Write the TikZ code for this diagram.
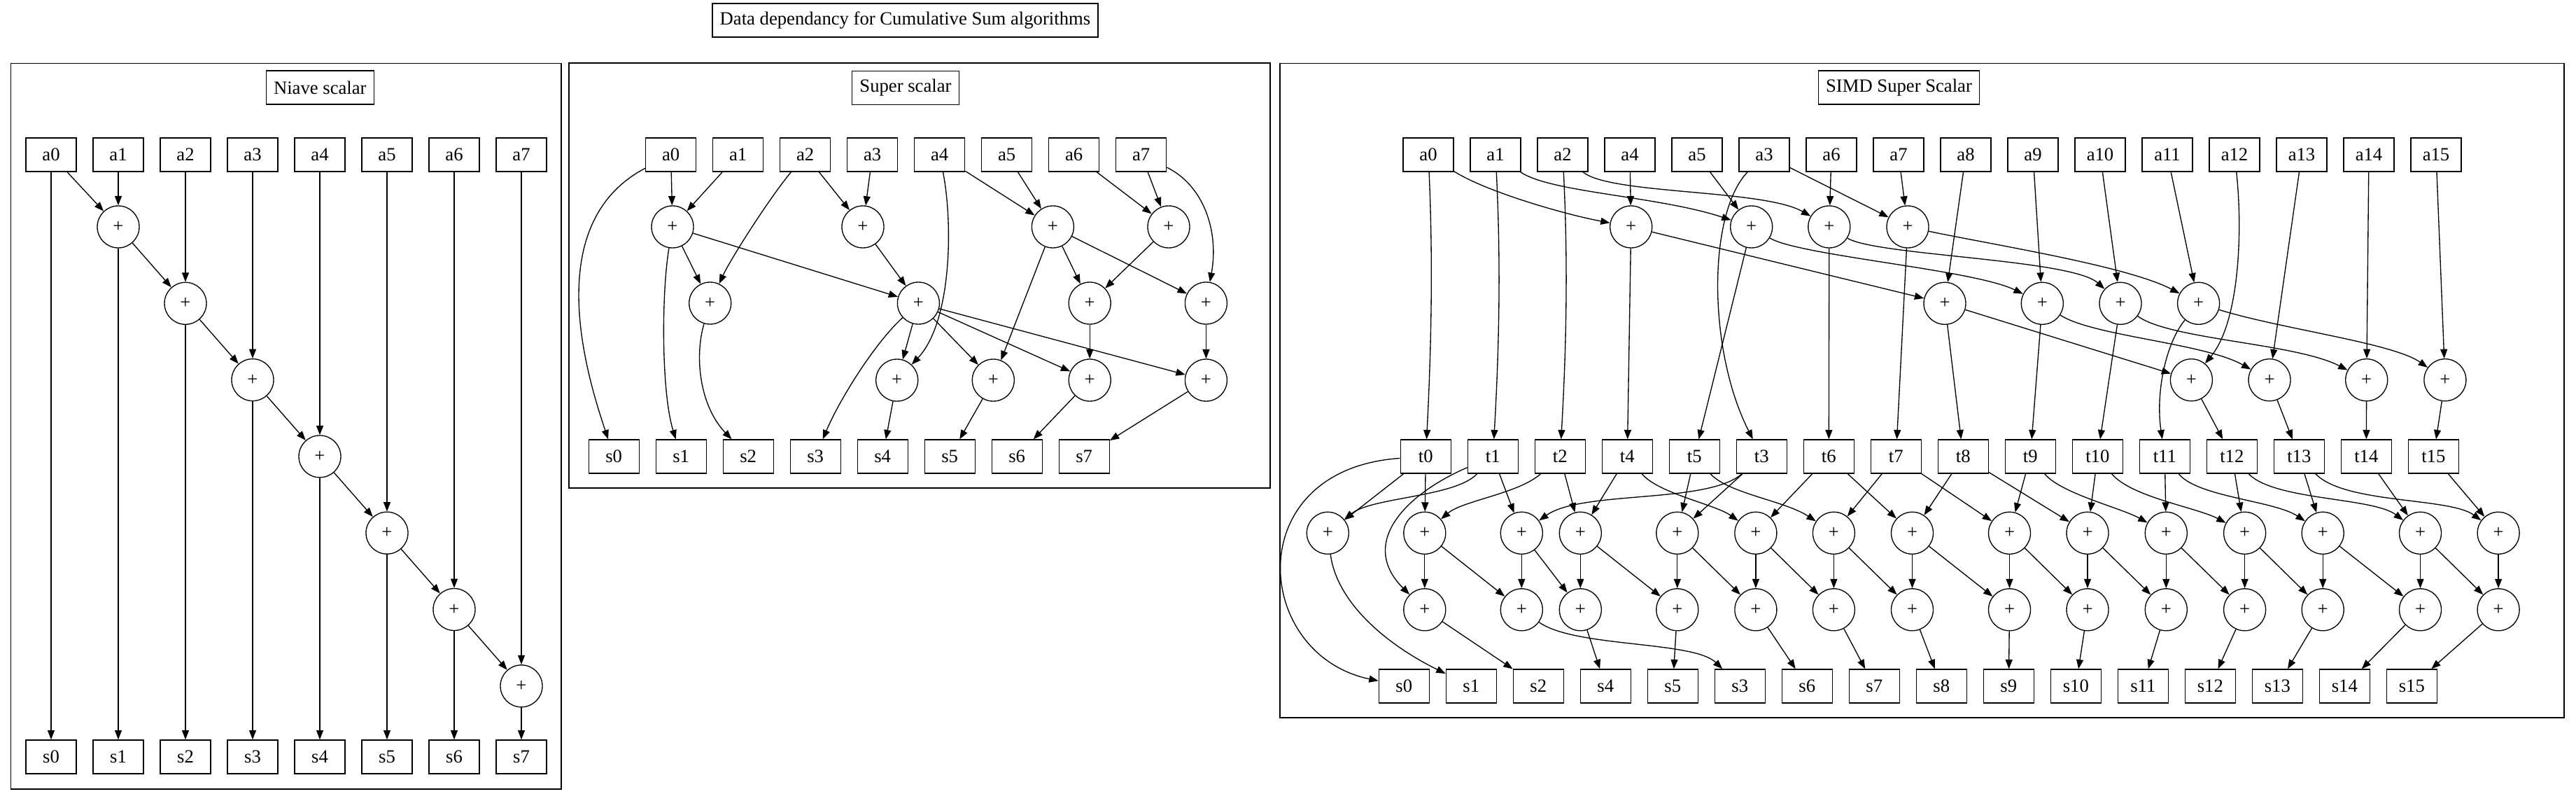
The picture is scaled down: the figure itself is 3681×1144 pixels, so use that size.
\documentclass[tikz,border=0pt]{standalone}
\usepackage{fontspec}
\setmainfont{Liberation Serif}
\usetikzlibrary{arrows.meta}
\begin{document}
\begin{tikzpicture}[x=0.75pt,y=-0.75pt,line width=1pt,
  font=\fontsize{20}{24}\selectfont,
  bx/.style={draw, minimum width=54pt, minimum height=36pt, inner sep=0pt},
  pl/.style={draw, circle, minimum size=45pt, inner sep=0pt},
  ttl/.style={draw, minimum height=36pt, inner xsep=8pt, inner ysep=0pt},
  e/.style={-{Triangle[length=10pt,width=7.5pt]}}]
\useasboundingbox (0,0) rectangle (3681,1144);

% ---------- titles and frames ----------
\node[ttl] (title) at (1293.4,29) {Data dependancy for Cumulative Sum algorithms};
\draw (15.5,90.7) rectangle (802,1127);
\draw (813,90) rectangle (1815,697);
\draw (1829,90.7) rectangle (3664,1025);
\node[ttl] (tn) at (457.3,125) {Niave scalar};
\node[ttl] (tsup) at (1294,125.5) {Super scalar};
\node[ttl] (tsimd) at (2713.5,125) {SIMD Super Scalar};

% ---------- Niave scalar ----------
\foreach \i in {0,...,7} {
  \node[bx] (na\i) at ({73+96*\i},221) {a\i};
  \node[bx] (ns\i) at ({73+96*\i},1081) {s\i};
}
\foreach \i in {1,...,7} \node[pl] (np\i) at ({73+96*\i},{324+109.3*(\i-1)}) {+};
\draw[e] (na0) -- (ns0);
\draw[e] (na0) -- (np1);
\foreach \i in {1,...,7} {
  \draw[e] (na\i) -- (np\i);
  \draw[e] (np\i) -- (ns\i);
}
\foreach \i in {1,...,6} {
  \pgfmathtruncatemacro\ii{\i+1}
  \draw[e] (np\i) -- (np\ii);
}

% ---------- Super scalar ----------
\foreach \i in {0,...,7} {
  \node[bx] (sa\i) at ({958.7+96*\i},221) {a\i};
  \node[bx] (ss\i) at ({877.2+96*\i},652) {s\i};
}
\node[pl] (ra0) at (961,324) {+};
\node[pl] (ra1) at (1233,324) {+};
\node[pl] (ra2) at (1504.4,324) {+};
\node[pl] (ra3) at (1670,324) {+};
\node[pl] (rb0) at (1014.7,433) {+};
\node[pl] (rb1) at (1312.4,433) {+};
\node[pl] (rb2) at (1557.2,433) {+};
\node[pl] (rb3) at (1723.4,433) {+};
\node[pl] (rc0) at (1281.7,543) {+};
\node[pl] (rc1) at (1419.3,543) {+};
\node[pl] (rc2) at (1557.2,543) {+};
\node[pl] (rc3) at (1723.4,543) {+};

\draw[e] (sa0) .. controls (770,320) and (840,540) .. (ss0);
\draw[e] (sa0) -- (ra0);
\draw[e] (sa1) -- (ra0);
\draw[e] (ra0) .. controls (945,420) and (945,560) .. (ss1);
\draw[e] (ra0) -- (rb0);
\draw[e] (sa2) .. controls (1098,285) and (1044,370) .. (rb0);
\draw[e] (sa2) -- (ra1);
\draw[e] (sa3) -- (ra1);
\draw[e] (ra0) -- (rb1);
\draw[e] (ra1) -- (rb1);
\draw[e] (rb0) .. controls (992,510) and (1000,580) .. (ss2);
\draw[e] (rb1) .. controls (1250,490) and (1200,570) .. (ss3);
\draw[e] (rb1) -- (rc0);
\draw[e] (sa4) .. controls (1362,320) and (1360,460) .. (rc0);
\draw[e] (sa4) -- (ra2);
\draw[e] (sa5) -- (ra2);
\draw[e] (sa6) -- (ra3);
\draw[e] (sa7) -- (ra3);
\draw[e] (sa7) .. controls (1720,265) and (1742,330) .. (rb3);
\draw[e] (ra2) -- (rb2);
\draw[e] (ra3) -- (rb2);
\draw[e] (ra2) -- (rb3);
\draw[e] (ra2) -- (rc1);
\draw[e] (rb1) -- (rc1);
\draw[e] (rb1) -- (rc2);
\draw[e] (rb1) -- (rc3);
\draw[e] (rb2) -- (rc2);
\draw[e] (rb3) -- (rc3);
\draw[e] (rc0) -- (ss4);
\draw[e] (rc1) -- (ss5);
\draw[e] (rc2) -- (ss6);
\draw[e] (rc3) -- (ss7);

% ---------- SIMD Super Scalar ----------
\foreach \lab [count=\k from 0] in {0,1,2,4,5,3,6,7,8,9,10,11,12,13,14,15} {
  \node[bx] (xa\lab) at ({2041+96*\k},221) {a\lab};
  \node[bx] (xt\lab) at ({2037.3+96*\k},652) {t\lab};
  \node[bx] (xs\lab) at ({2006.3+96*\k},980) {s\lab};
}
\node[pl] (xA0) at (2330.7,324) {+};
\node[pl] (xA1) at (2502.7,324) {+};
\node[pl] (xA2) at (2613.8,324) {+};
\node[pl] (xA3) at (2726,324) {+};
\node[pl] (xB0) at (2779,433.3) {+};
\node[pl] (xB1) at (2918.3,433.3) {+};
\node[pl] (xB2) at (3030,433.3) {+};
\node[pl] (xB3) at (3141.6,433.3) {+};
\node[pl] (xC0) at (3131.4,542.7) {+};
\node[pl] (xC1) at (3243,542.7) {+};
\node[pl] (xC2) at (3381.7,542.7) {+};
\node[pl] (xC3) at (3493.9,542.7) {+};
\foreach \xx [count=\k from 0] in {1897.3,2035.8,2174.3,2258.3,2396.8,2508.9,2620.4,2732.5,2871.5,2983,3095.3,3207.6,3319.2,3458.5,3570.1}
  \node[pl] (xD\k) at (\xx,761.3) {+};
\foreach \xx [count=\k from 0] in {2035.8,2174.3,2258.3,2396.8,2508.9,2620.4,2732.5,2871.5,2983,3095.3,3207.6,3319.2,3458.5,3570.1}
  \node[pl] (xE\k) at (\xx,870.8) {+};

% top part
\draw[e] (xa0) .. controls (2048,380) and (2045,500) .. (xt0);
\draw[e] (xa1) .. controls (2145,380) and (2142,500) .. (xt1);
\draw[e] (xa2) .. controls (2241,380) and (2238,500) .. (xt2);
\draw[e] (xa4) -- (xA0);
\draw[e] (xA0) -- (xt4);
\draw[e] (xa0) .. controls (2120,272) and (2230,305) .. (xA0);
\draw[e] (xa1) .. controls (2215,275) and (2370,280) .. (xA1);
\draw[e] (xa5) -- (xA1);
\draw[e] (xa2) .. controls (2300,278) and (2520,270) .. (xA2);
\draw[e] (xa6) -- (xA2);
\draw[e] (xa3) -- (xA3);
\draw[e] (xa7) -- (xA3);
\draw[e] (xa3) .. controls (2440,305) and (2440,500) .. (xt3);
\draw[e] (xA1) -- (xt5);
\draw[e] (xA2) -- (xt6);
\draw[e] (xA3) -- (xt7);
\draw[e] (xA0) -- (xB0);
\draw[e] (xA1) .. controls (2570,365) and (2820,385) .. (xB1);
\draw[e] (xA2) .. controls (2680,365) and (2960,370) .. (xB2);
\draw[e] (xA3) .. controls (2850,350) and (3040,380) .. (xB3);
\draw[e] (xa8) -- (xB0);
\draw[e] (xa9) -- (xB1);
\draw[e] (xa10) -- (xB2);
\draw[e] (xa11) -- (xB3);
\draw[e] (xB0) -- (xt8);
\draw[e] (xB1) -- (xt9);
\draw[e] (xB2) -- (xt10);
\draw[e] (xB3) .. controls (3095,490) and (3080,560) .. (xt11);
\draw[e] (xB0) -- (xC0);
\draw[e] (xB1) .. controls (2990,480) and (3150,490) .. (xC1);
\draw[e] (xB2) .. controls (3100,485) and (3280,490) .. (xC2);
\draw[e] (xB3) .. controls (3260,470) and (3420,490) .. (xC3);
\draw[e] (xa12) .. controls (3205,330) and (3200,460) .. (xC0);
\draw[e] (xa13) -- (xC1);
\draw[e] (xa14) -- (xC2);
\draw[e] (xa15) -- (xC3);
\draw[e] (xC0) -- (xt12);
\draw[e] (xC1) -- (xt13);
\draw[e] (xC2) -- (xt14);
\draw[e] (xC3) -- (xt15);

% bottom part
\draw[e] (xt0) .. controls (1770,670) and (1790,935) .. (xs0);
\draw[e] (xt0) -- (xD0);
\draw[e] (xt1) .. controls (2080,710) and (1960,710) .. (xD0);
\draw[e] (xt0) -- (xD1);
\draw[e] (xt1) .. controls (2010,705) and (1940,775) .. (xE0);
\draw[e] (xt2) .. controls (2170,705) and (2090,715) .. (xD1);
\draw[e] (xt1) -- (xD2);
\draw[e] (xt3) .. controls (2440,720) and (2260,700) .. (xD2);
\draw[e] (xt2) -- (xD3);
\draw[e] (xt4) -- (xD3);
\draw[e] (xt3) -- (xD4);
\draw[e] (xt5) -- (xD4);
\draw[e] (xt4) .. controls (2370,705) and (2450,720) .. (xD5);
\draw[e] (xt6) -- (xD5);
\draw[e] (xt5) .. controls (2470,705) and (2550,715) .. (xD6);
\draw[e] (xt7) -- (xD6);
\draw[e] (xt6) -- (xD7);
\draw[e] (xt8) -- (xD7);
\draw[e] (xt7) -- (xD8);
\draw[e] (xt9) -- (xD8);
\draw[e] (xt8) -- (xD9);
\draw[e] (xt10) -- (xD9);
\draw[e] (xt9) .. controls (2945,705) and (3030,725) .. (xD10);
\draw[e] (xt11) -- (xD10);
\draw[e] (xt10) .. controls (3045,710) and (3140,725) .. (xD11);
\draw[e] (xt12) -- (xD11);
\draw[e] (xt11) .. controls (3140,710) and (3250,715) .. (xD12);
\draw[e] (xt13) -- (xD12);
\draw[e] (xt12) .. controls (3250,715) and (3390,710) .. (xD13);
\draw[e] (xt14) -- (xD13);
\draw[e] (xt13) .. controls (3350,720) and (3500,710) .. (xD14);
\draw[e] (xt15) -- (xD14);

\foreach \k in {0,...,13} {
  \pgfmathtruncatemacro\kk{\k+1}
  \draw[e] (xD\kk) -- (xE\k);
}
\foreach \k in {1,...,13} \draw[e] (xD\k) -- (xE\k);

\draw[e] (xD0) .. controls (1910,860) and (1980,920) .. (xs1);
\draw[e] (xE0) -- (xs2);
\draw[e] (xE1) .. controls (2250,925) and (2420,915) .. (xs3);
\foreach \k in {2,...,13} {
  \pgfmathtruncatemacro\kk{\k+2}
  \draw[e] (xE\k) -- (xs\kk);
}
\end{tikzpicture}
\end{document}
